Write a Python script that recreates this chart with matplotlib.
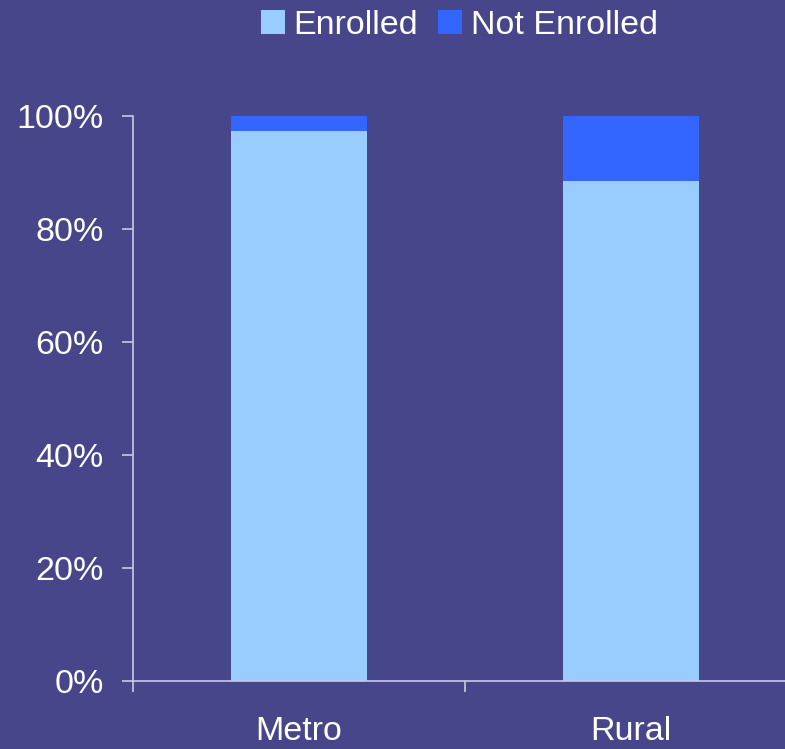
import matplotlib.pyplot as plt
from matplotlib.ticker import FuncFormatter, FixedLocator

plt.rcParams['font.family'] = ['Liberation Sans', 'DejaVu Sans']

regions = ['Metro', 'Rural']
enrolled = [97.3, 88.5]
not_enrolled = [2.7, 11.5]

bg = '#47468A'
axis_col = '#C9C9E3'

fig = plt.figure(figsize=(7.85, 7.49), dpi=100, facecolor=bg)
ax = fig.add_axes([0.1694, 0.0908, 0.8457, 0.7543], facecolor=bg)

x = range(len(regions))
ax.bar(x, enrolled, width=0.41, color='#99CCFF', label='Enrolled')
ax.bar(x, not_enrolled, width=0.41, bottom=enrolled, color='#3366FF', label='Not Enrolled')

ax.set_xlim(-0.5, 1.5)
ax.set_ylim(0, 100)
ax.set_yticks([0, 20, 40, 60, 80, 100])
ax.yaxis.set_major_formatter(FuncFormatter(lambda v, p: f'{v:.0f}%'))

# category labels without tick marks, short ticks on the category boundaries
ax.set_xticks(list(x))
ax.set_xticklabels(regions)
ax.xaxis.set_minor_locator(FixedLocator([-0.5, 0.5, 1.5]))
ax.tick_params(axis='x', which='major', length=0, pad=25, labelsize=24.5, colors='white')
ax.tick_params(axis='x', which='minor', length=8, width=1.2, color=axis_col)
ax.tick_params(axis='y', length=8, width=1.2, color=axis_col, labelsize=24.5,
               labelcolor='white', pad=13)

for s in ['top', 'right']:
    ax.spines[s].set_visible(False)
for s in ['left', 'bottom']:
    ax.spines[s].set_color(axis_col)
    ax.spines[s].set_linewidth(1.2)

ax.legend(loc='upper center', bbox_to_anchor=(0.585, 1.005), bbox_transform=fig.transFigure,
          ncol=2, frameon=False, fontsize=24.5, labelcolor='white',
          handlelength=0.7, handleheight=0.7, handletextpad=0.25, columnspacing=0.6,
          borderaxespad=0.0)

fig.savefig('out.png', dpi=100, facecolor=bg)
